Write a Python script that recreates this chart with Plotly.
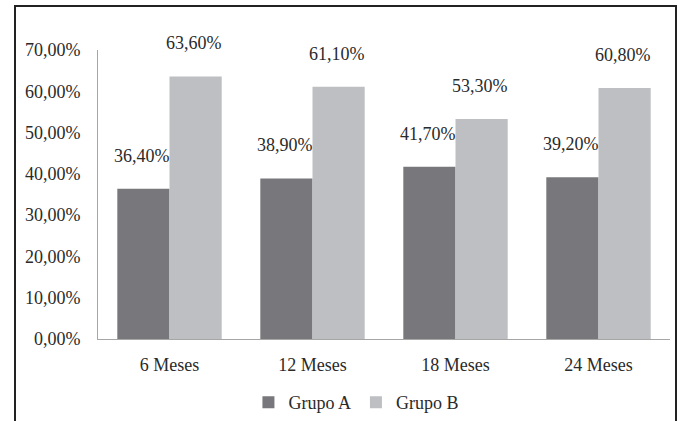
import plotly.graph_objects as go

categories = ["6 Meses", "12 Meses", "18 Meses", "24 Meses"]
grupo_a = [36.4, 38.9, 41.7, 39.2]
grupo_b = [63.6, 61.1, 53.3, 60.8]
y_ticks = [0, 10, 20, 30, 40, 50, 60, 70]
y_tick_text = [f"{t:.2f}%".replace(".", ",") for t in y_ticks]

FONT = "Liberation Serif"
TXT = "#2a2a2a"
COL_A = "#78787c"
COL_B = "#bebfc3"

fig = go.Figure()
fig.add_trace(go.Bar(name="Grupo A", x=categories, y=grupo_a, marker_color=COL_A,
                     marker_line_width=0))
fig.add_trace(go.Bar(name="Grupo B", x=categories, y=grupo_b, marker_color=COL_B,
                     marker_line_width=0))

annotations = []
for vals, shift in ((grupo_a, -28), (grupo_b, 24)):
    for c, v in zip(categories, vals):
        annotations.append(dict(x=c, y=v, xref="x", yref="y", xshift=shift, yshift=21,
                                text=f"{v:.2f}%".replace(".", ","), showarrow=False,
                                yanchor="bottom", font=dict(family=FONT, size=18, color=TXT)))

fig.update_layout(
    width=683, height=421,
    margin=dict(l=98, r=13, t=50, b=82, autoexpand=False),
    paper_bgcolor="white", plot_bgcolor="white",
    barmode="group", bargap=0.27, bargroupgap=0,
    font=dict(family=FONT, size=18, color=TXT),
    showlegend=True,
    legend=dict(orientation="h", x=0.263, xanchor="left", y=-0.22, yanchor="middle",
                font=dict(family=FONT, size=18, color=TXT), itemwidth=30,
                bgcolor="rgba(0,0,0,0)"),
    annotations=annotations,
    shapes=[dict(type="rect", xref="paper", yref="paper",
                 x0=(15 - 98) / 572, x1=(676 - 98) / 572,
                 y0=-0.6, y1=(339 - 6) / 289,
                 line=dict(color="#222222", width=2), fillcolor="rgba(0,0,0,0)", layer="below")],
)
fig.update_xaxes(showline=True, linecolor="#a6a6a6", linewidth=1, showgrid=False,
                 ticks="", ticklabelstandoff=9,
                 tickfont=dict(family=FONT, size=18, color=TXT))
fig.update_yaxes(range=[0, 70], tickvals=y_ticks, ticktext=y_tick_text,
                 showline=True, linecolor="#a6a6a6", linewidth=1, showgrid=False,
                 zeroline=False, ticks="", ticklabelstandoff=13,
                 tickfont=dict(family=FONT, size=18, color=TXT))

fig.write_html("out.html")
